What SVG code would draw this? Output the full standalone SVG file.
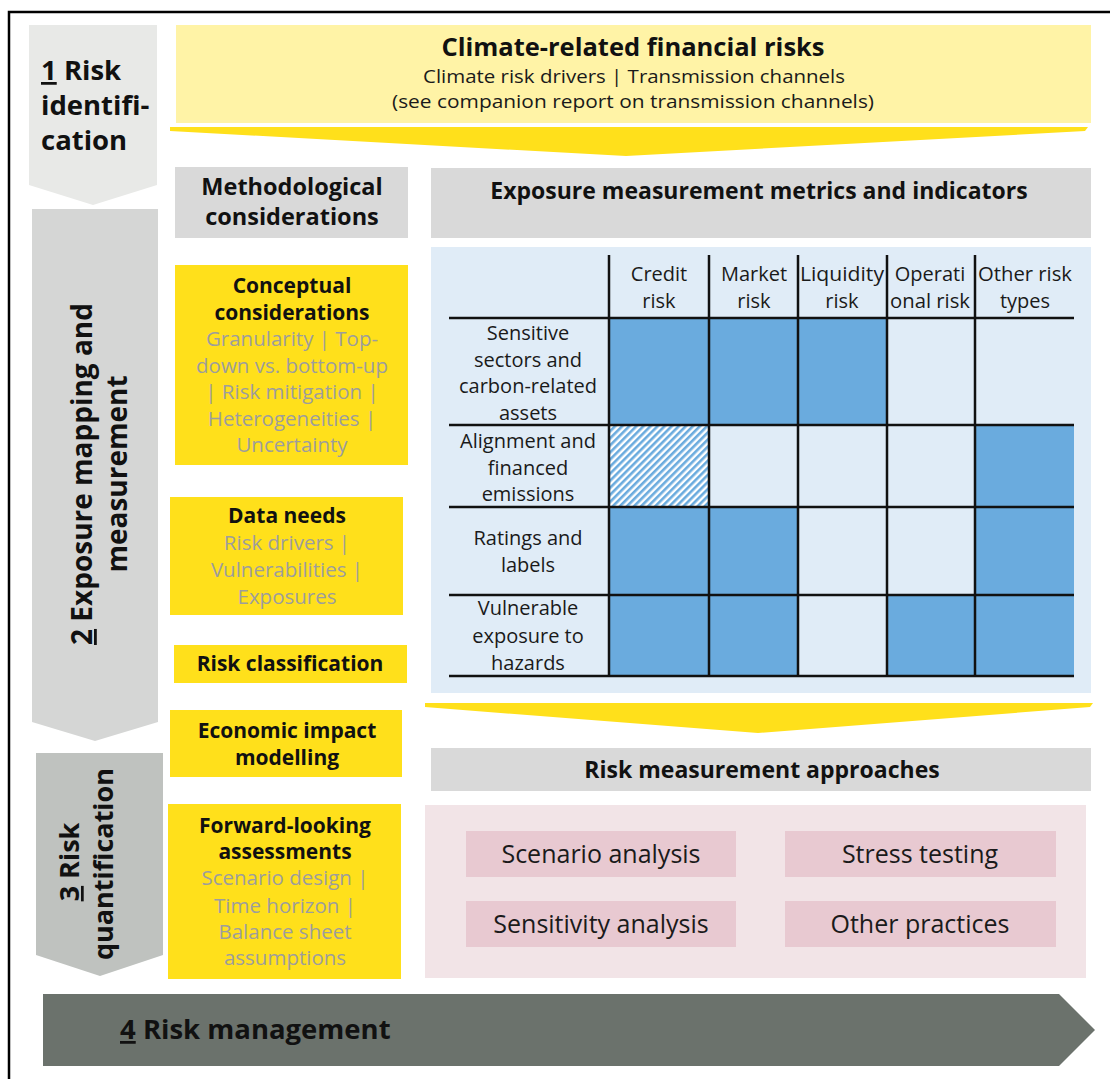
<svg xmlns="http://www.w3.org/2000/svg" width="1110" height="1079" viewBox="0 0 1110 1079">
<defs>
<style>
text{font-family:"Open Sans","Liberation Sans",sans-serif;}
.b{font-weight:700;fill:#111;}
.r{font-weight:400;fill:#1a1a1a;}
.g{font-weight:400;fill:#9d9d9d;}
.m{text-anchor:middle;}
.yel{fill:#ffe01b;}
.gry{fill:#d9d9d9;}
.blue{fill:#6aabde;}
.pinkbox{fill:#e8c9d1;}
.tl{stroke:#111;stroke-width:2.5;fill:none;}
</style>
<pattern id="hatch" width="5" height="5" patternUnits="userSpaceOnUse" patternTransform="rotate(-45)">
<rect width="5" height="5" fill="#ffffff"/>
<rect width="5" height="2.6" fill="#6aabde"/>
</pattern>
</defs>
<rect width="1110" height="1079" fill="#ffffff"/>
<path d="M9,1079 V12 H1110" fill="none" stroke="#000" stroke-width="2.5"/>

<g id="stage1">
<path d="M29,25 H157 V185 L93,205 L29,185 Z" fill="#e8e9e7"/>
<text class="b" font-size="27.5"><tspan x="41" y="80"><tspan text-decoration="underline">1</tspan> Risk</tspan><tspan x="41" y="115">identifi-</tspan><tspan x="41" y="150">cation</tspan></text>
</g>

<g id="stage2">
<path d="M32,209 H158 V722 L95,741 L32,722 Z" fill="#d5d6d5"/>
<text class="b m" font-size="28" transform="translate(92,474) rotate(-90)"><tspan text-decoration="underline">2</tspan> Exposure mapping and</text>
<text class="b m" font-size="28" transform="translate(127,474) rotate(-90)">measurement</text>
</g>

<g id="stage3">
<path d="M36,753 H163 V955 L100,976 L36,955 Z" fill="#bfc2bf"/>
<text class="b m" font-size="27" transform="translate(79,862) rotate(-90)"><tspan text-decoration="underline">3</tspan> Risk</text>
<text class="b m" font-size="27" transform="translate(113,864) rotate(-90)">quantification</text>
</g>

<g id="stage4">
<path d="M43,994 H1059 L1095,1030 L1059,1066 H43 Z" fill="#6b726c"/>
<text class="b" font-size="27.5" x="120" y="1039"><tspan text-decoration="underline">4</tspan> Risk management</text>
</g>

<g id="climate-risks">
<rect x="176" y="25" width="915" height="98" fill="#fff3a6"/>
<text class="b m" font-size="25.5" x="633" y="56">Climate-related financial risks</text>
<text class="r m" font-size="18" x="634" y="83" textLength="422" lengthAdjust="spacingAndGlyphs">Climate risk drivers | Transmission channels</text>
<text class="r m" font-size="18" x="633" y="108" textLength="482" lengthAdjust="spacingAndGlyphs">(see companion report on transmission channels)</text>
</g>

<g id="methodological">
<rect class="gry" x="175" y="167" width="233" height="71"/>
<text class="b m" font-size="23.5"><tspan x="292" y="195">Methodological</tspan><tspan x="292" y="225">considerations</tspan></text>
</g>

<g id="exposure-metrics">
<rect class="gry" x="431" y="168" width="660" height="70"/>
<text class="b m" font-size="23" x="759" y="199">Exposure measurement metrics and indicators</text>
</g>

<g id="conceptual">
<rect class="yel" x="175" y="265" width="233" height="200"/>
<text class="b m" font-size="21"><tspan x="292" y="293">Conceptual</tspan><tspan x="292" y="320">considerations</tspan></text>
<text class="g m" font-size="20.5"><tspan x="292" y="346">Granularity | Top-</tspan><tspan x="292" y="373">down vs. bottom-up</tspan><tspan x="292" y="399">| Risk mitigation |</tspan><tspan x="292" y="426">Heterogeneities |</tspan><tspan x="292" y="452">Uncertainty</tspan></text>
</g>

<g id="data-needs">
<rect class="yel" x="170" y="497" width="233" height="118"/>
<text class="b m" font-size="21" x="287" y="523">Data needs</text>
<text class="g m" font-size="20.5"><tspan x="287" y="550">Risk drivers |</tspan><tspan x="287" y="577">Vulnerabilities |</tspan><tspan x="287" y="604">Exposures</tspan></text>
</g>

<g id="risk-classification">
<rect class="yel" x="174" y="645" width="233" height="38"/>
<text class="b m" font-size="21" x="290" y="671">Risk classification</text>
</g>

<g id="economic-impact">
<rect class="yel" x="170" y="710" width="232" height="67"/>
<text class="b m" font-size="21"><tspan x="287" y="738">Economic impact</tspan><tspan x="287" y="765">modelling</tspan></text>
</g>

<g id="forward-looking">
<rect class="yel" x="168" y="804" width="233" height="175"/>
<text class="b m" font-size="21"><tspan x="285" y="833">Forward-looking</tspan><tspan x="285" y="859">assessments</tspan></text>
<text class="g m" font-size="20.5"><tspan x="285" y="885">Scenario design |</tspan><tspan x="285" y="913">Time horizon |</tspan><tspan x="285" y="939">Balance sheet</tspan><tspan x="285" y="965">assumptions</tspan></text>
</g>

<g id="metrics-table">
<rect x="431" y="247" width="660" height="446" fill="#e0ecf7"/>
<rect class="blue" x="609" y="318" width="100" height="107"/>
<rect class="blue" x="709" y="318" width="89" height="107"/>
<rect class="blue" x="798" y="318" width="89" height="107"/>
<rect fill="url(#hatch)" x="609" y="425" width="100" height="82"/>
<rect class="blue" x="975" y="425" width="99" height="82"/>
<rect class="blue" x="609" y="507" width="100" height="88"/>
<rect class="blue" x="709" y="507" width="89" height="88"/>
<rect class="blue" x="975" y="507" width="99" height="88"/>
<rect class="blue" x="609" y="595" width="100" height="81"/>
<rect class="blue" x="709" y="595" width="89" height="81"/>
<rect class="blue" x="887" y="595" width="88" height="81"/>
<rect class="blue" x="975" y="595" width="99" height="81"/>
<path class="tl" d="M449,318 H1074 M449,425 H1074 M449,507 H1074 M449,595 H1074 M449,676 H1074"/>
<path class="tl" stroke-width="2" d="M609,255 V676 M709,255 V676 M798,255 V676 M887,255 V676 M975,255 V676"/>
<g class="r m" font-size="20">
<text><tspan x="659" y="281">Credit</tspan><tspan x="659" y="308">risk</tspan></text>
<text><tspan x="754" y="281">Market</tspan><tspan x="754" y="308">risk</tspan></text>
<text><tspan x="842" y="281" textLength="84" lengthAdjust="spacingAndGlyphs">Liquidity</tspan><tspan x="842" y="308">risk</tspan></text>
<text><tspan x="930" y="281">Operati</tspan><tspan x="930" y="308" textLength="80" lengthAdjust="spacingAndGlyphs">onal risk</tspan></text>
<text><tspan x="1025" y="281" textLength="94" lengthAdjust="spacingAndGlyphs">Other risk</tspan><tspan x="1025" y="308">types</tspan></text>
<text><tspan x="528" y="340">Sensitive</tspan><tspan x="528" y="367">sectors and</tspan><tspan x="528" y="393">carbon-related</tspan><tspan x="528" y="420">assets</tspan></text>
<text><tspan x="528" y="448">Alignment and</tspan><tspan x="528" y="475">financed</tspan><tspan x="528" y="501">emissions</tspan></text>
<text><tspan x="528" y="545">Ratings and</tspan><tspan x="528" y="572">labels</tspan></text>
<text><tspan x="528" y="615">Vulnerable</tspan><tspan x="528" y="643">exposure to</tspan><tspan x="528" y="670">hazards</tspan></text>
</g>
</g>

<g id="risk-approaches">
<rect class="gry" x="431" y="748" width="660" height="43"/>
<text class="b m" font-size="23" x="762" y="778">Risk measurement approaches</text>
<rect x="425" y="805" width="661" height="173" fill="#f2e4e7"/>
</g>
<g id="scenario-analysis">
<rect class="pinkbox" x="466" y="831" width="270" height="46"/>
<text class="r m" font-size="25" x="601" y="863">Scenario analysis</text>
</g>
<g id="stress-testing">
<rect class="pinkbox" x="785" y="831" width="271" height="46"/>
<text class="r m" font-size="25" x="920" y="863">Stress testing</text>
</g>
<g id="sensitivity-analysis">
<rect class="pinkbox" x="466" y="901" width="270" height="46"/>
<text class="r m" font-size="25" x="601" y="933">Sensitivity analysis</text>
</g>
<g id="other-practices">
<rect class="pinkbox" x="785" y="901" width="271" height="46"/>
<text class="r m" font-size="25" x="920" y="933">Other practices</text>
</g>

<g id="connectors">
<path d="M170,127 H1088 L1085,131 L626,156 L170,131 Z" fill="#ffe01b"/>
<path d="M425,703 H1093 L1090,707 L758,733 L425,707 Z" fill="#ffe01b"/>
</g>
</svg>
